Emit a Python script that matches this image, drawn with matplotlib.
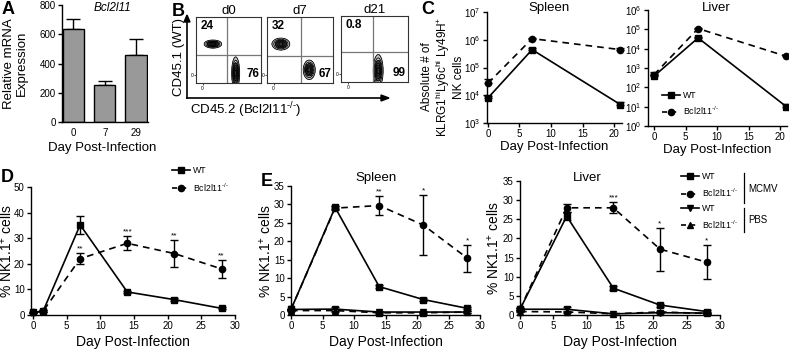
import numpy as np
import matplotlib
matplotlib.use("Agg")
import matplotlib.pyplot as plt
from matplotlib.lines import Line2D

plt.rcParams['font.family'] = ['Liberation Sans', 'DejaVu Sans']
plt.rcParams['mathtext.fontset'] = 'custom'
plt.rcParams['mathtext.rm'] = 'Liberation Sans'
plt.rcParams['mathtext.it'] = 'Liberation Sans:italic'
plt.rcParams['mathtext.bf'] = 'Liberation Sans:bold'

# ---------------- data ----------------
# Panel A
a_days = ['0', '7', '29']
a_expr = [635, 250, 455]
a_err = [70, 32, 110]

# Panel B (flow cytometry summary)
b_days = ['d0', 'd7', 'd21']
b_pct_wt = ['24', '32', '0.8']
b_pct_ko = ['76', '67', '99']
b_wt_center = [(0.26, 0.59), (0.21, 0.59), (0.25, 0.75)]
b_wt_spread = [(0.055, 0.025), (0.055, 0.037), (0.05, 0.03)]
b_ko_center = [(0.61, 0.15), (0.64, 0.20), (0.555, 0.17)]
b_ko_spread = [(0.025, 0.10), (0.037, 0.06), (0.03, 0.10)]
b_vgate = [0.47, 0.51, 0.48]
b_hgate = [0.43, 0.41, 0.45]

# Panel C
c_days = [0, 7, 21]
c_spleen_wt = [8.0e3, 4.4e5, 4.6e3]
c_spleen_wt_err = [1.5e3, 5e4, 1.0e3]
c_spleen_ko = [2.7e4, 1.1e6, 4.4e5]
c_spleen_ko_err = [1.3e4, 1e5, 5e4]
c_liver_wt = [380, 3.6e4, 10]
c_liver_wt_err = [120, 4e3, 4]
c_liver_ko = [450, 1.1e5, 4.0e3]
c_liver_ko_err = [150, 1e4, 500]
c_stars = ['', '', '**']

# Panel D
d_days = [0, 1.5, 7, 14, 21, 28]
d_wt = [1.0, 1.5, 35.2, 9.0, 6.0, 2.6]
d_wt_err = [0.2, 0.3, 3.4, 0.5, 0.6, 0.4]
d_ko = [1.0, 1.5, 22.0, 28.0, 24.0, 18.0]
d_ko_err = [0.2, 0.3, 2.2, 2.8, 5.3, 3.5]
d_stars = ['', '', '**', '***', '**', '**']

# Panel E
e_days = [0, 7, 14, 21, 28]
e_spl_wt = [1.5, 29.2, 7.7, 4.2, 1.8]
e_spl_wt_err = [0.2, 0.5, 0.5, 0.4, 0.3]
e_spl_ko = [1.5, 29.0, 29.7, 24.4, 15.4]
e_spl_ko_err = [0.2, 0.5, 2.5, 8.1, 3.7]
e_spl_pbs_wt = [1.5, 1.6, 0.8, 0.8, 0.8]
e_spl_pbs_wt_err = [0.2, 0.5, 0.2, 0.2, 0.2]
e_spl_pbs_ko = [1.2, 1.2, 0.6, 0.6, 0.8]
e_spl_pbs_ko_err = [0.2, 0.3, 0.2, 0.2, 0.2]
e_spl_stars = ['', '', '**', '*', '*']

e_liv_wt = [1.5, 25.8, 7.0, 2.6, 0.9]
e_liv_wt_err = [0.2, 1.0, 0.5, 0.4, 0.3]
e_liv_ko = [1.5, 28.0, 28.0, 17.2, 13.8]
e_liv_ko_err = [0.2, 1.0, 1.4, 5.6, 4.4]
e_liv_pbs_wt = [1.5, 1.5, 0.3, 0.6, 0.5]
e_liv_pbs_wt_err = [0.2, 0.6, 0.2, 0.2, 0.2]
e_liv_pbs_ko = [0.9, 0.8, 0.3, 0.8, 0.4]
e_liv_pbs_ko_err = [0.2, 0.3, 0.2, 0.2, 0.2]
e_liv_stars = ['', '', '***', '*', '*']

KO = r'Bcl2l11$^{\text{-/-}}$'

# ---------------- layout helpers ----------------
W, H = 789, 351
fig = plt.figure(figsize=(W / 100, H / 100), dpi=100)
TICK = 7
LAB = 9.5


def add_ax(l, t, r, b):
    return fig.add_axes([l / W, 1 - b / H, (r - l) / W, (b - t) / H])


def style(ax):
    for s in ['top', 'right']:
        ax.spines[s].set_visible(False)
    for s in ['left', 'bottom']:
        ax.spines[s].set_linewidth(1.0)
    ax.tick_params(direction='out', length=3, width=1.0, labelsize=TICK, pad=1.5)


def ftext(x, y, s, **kw):
    fig.text(x / W, 1 - y / H, s, **kw)


def ylab(ax, x_px, s, size=LAB, y_px=None):
    pos = ax.get_position()
    yc = (pos.y0 + pos.y1) / 2 if y_px is None else 1 - y_px / H
    fig.text(x_px / W, yc, s, rotation=90, ha='center', va='center', size=size,
             multialignment='center', linespacing=1.1)


def series(ax, x, y, err, marker, ls, stars=None, ms=4.5, log=False):
    ax.errorbar(x, y, yerr=err, color='black', marker=marker, ms=ms, ls=ls,
                lw=1.2, elinewidth=1.0, capsize=3, capthick=1.0, clip_on=False,
                dashes=(4, 3) if ls == '--' else (None, None), zorder=3)
    if stars:
        for xi, yi, ei, st in zip(x, y, err, stars):
            if st:
                top = yi + ei
                ax.annotate(st, (xi, top), xytext=(0, 1 if log else 0.5),
                            textcoords='offset points', ha='center', va='bottom', size=6)


def handle(marker, ls):
    return Line2D([], [], color='black', marker=marker, ms=4.5, lw=1.2, ls=ls,
                  dashes=(3, 2.5) if ls == '--' else (None, None))


LEG = dict(frameon=False, fontsize=6.3, handlelength=2.0, handletextpad=0.35,
           borderpad=0, borderaxespad=0, loc='upper left', bbox_transform=fig.transFigure)

# ---------------- Panel A ----------------
axA = add_ax(62, 5, 148, 122)
style(axA)
xa = np.arange(len(a_days))
axA.bar(xa, a_expr, width=0.68, color='#999999', edgecolor='black', lw=1.0, zorder=2)
axA.errorbar(xa, a_expr, yerr=[np.zeros(3), a_err], fmt='none', ecolor='black',
             elinewidth=1.0, capsize=5, capthick=1.0, zorder=1)
axA.set_xlim(-0.36, 2.38)
axA.set_ylim(0, 800)
axA.set_yticks([0, 200, 400, 600, 800])
axA.set_xticks(xa)
axA.set_xticklabels(a_days)
axA.tick_params(axis='x', length=0, pad=4)
ftext(112, 8, 'Bcl2l11', style='italic', size=8.5, ha='center', va='center')
ylab(axA, 15, 'Relative mRNA\nExpression')
ftext(102, 148, 'Day Post-Infection', size=LAB, ha='center', va='center')
ftext(2, 10, 'A', size=13, weight='bold', ha='left', va='center')

# ---------------- Panel B ----------------
gx, gy = np.meshgrid(np.linspace(0, 1, 260), np.linspace(0, 1, 260))
boxes = [(196, 17, 261, 83), (267, 17, 333, 83), (341, 16, 408, 82)]
levels = [0.05, 0.15, 0.3, 0.5, 0.7, 0.88]
for i, bx in enumerate(boxes):
    ax = add_ax(*bx)
    for pct, (cx, cy), (sx, sy) in [(b_pct_wt[i], b_wt_center[i], b_wt_spread[i]),
                                    (b_pct_ko[i], b_ko_center[i], b_ko_spread[i])]:
        if float(pct) < 5:
            continue
        dens = np.exp(-((gx - cx) ** 2 / (2 * sx ** 2) + (gy - cy) ** 2 / (2 * sy ** 2)))
        ax.contourf(gx, gy, dens, levels=[levels[0], levels[2], 1.01], colors=['#c8c8c8', '#4a4a4a'])
        ax.contour(gx, gy, dens, levels=levels, colors='black', linewidths=0.6)
    ax.axvline(b_vgate[i], color='#777777', lw=0.9)
    ax.axhline(b_hgate[i], color='#777777', lw=0.9)
    ax.set_xlim(0, 1)
    ax.set_ylim(0, 1)
    ax.set_xticks([0.1])
    ax.set_xticklabels(['0'])
    ax.set_yticks([0.12])
    ax.set_yticklabels(['0'])
    ax.tick_params(labelsize=3.5, length=1.5, width=0.5, pad=0.5)
    for s in ax.spines.values():
        s.set_linewidth(0.8)
        s.set_color('#333333')
    ax.text(0.07, 0.95, b_pct_wt[i], transform=ax.transAxes, size=8.5, weight='bold',
            ha='left', va='top')
    ax.text(0.97, 0.05, b_pct_ko[i], transform=ax.transAxes, size=8.5, weight='bold',
            ha='right', va='bottom')
    ax.set_title(b_days[i], size=LAB, pad=1.5)

fig.add_artist(Line2D([187 / W, 187 / W], [1 - 98 / H, 1 - 17 / H], color='black', lw=1.2))
fig.add_artist(Line2D([187 / W, 386 / W], [1 - 98 / H, 1 - 98 / H], color='black', lw=1.2))
fig.patches.append(plt.Polygon([[184 / W, 1 - 22 / H], [190 / W, 1 - 22 / H], [187 / W, 1 - 15 / H]],
                               closed=True, color='black', transform=fig.transFigure, figure=fig))
fig.patches.append(plt.Polygon([[381 / W, 1 - 95 / H], [381 / W, 1 - 101 / H], [389 / W, 1 - 98 / H]],
                               closed=True, color='black', transform=fig.transFigure, figure=fig))
fig.text(179 / W, 1 - 57 / H, 'CD45.1 (WT)', rotation=90, ha='center', va='center', size=LAB)
ftext(190, 110, 'CD45.2 (' + KO + ')', size=LAB, ha='left', va='center')
ftext(172, 11, 'B', size=13, weight='bold', ha='left', va='center')

# ---------------- Panel C ----------------
axCs = add_ax(487, 12, 622, 123)
axCl = add_ax(648, 10, 787, 126)
for ax, xl, yl, wt, wte, ko, koe, title, tx in [
        (axCs, (-0.15, 21.25), (1e3, 1e7), c_spleen_wt, c_spleen_wt_err, c_spleen_ko, c_spleen_ko_err, 'Spleen', 549),
        (axCl, (-0.95, 21.1), (1, 1e6), c_liver_wt, c_liver_wt_err, c_liver_ko, c_liver_ko_err, 'Liver', 716)]:
    style(ax)
    ax.set_yscale('log')
    ax.set_xlim(*xl)
    ax.set_ylim(*yl)
    ax.minorticks_off()
    ax.set_yticks([10 ** k for k in range(int(np.log10(yl[0])), int(np.log10(yl[1])) + 1)])
    ax.set_xticks([0, 5, 10, 15, 20])
    series(ax, c_days, wt, [np.zeros(3), wte], 's', '-')
    series(ax, c_days, ko, [np.zeros(3), koe], 'o', '--', stars=c_stars, log=True)
    ftext(tx, 8, title, size=LAB, ha='center', va='center')
    ax.set_xlabel('Day Post-Infection', size=LAB, labelpad=1)
ylab(axCs, 443, 'Absolute # of\n' + r'KLRG1$^{\mathrm{hi}}$Ly6c$^{\mathrm{hi}}$ Ly49H$^{+}$' + '\nNK cells',
     size=8.5, y_px=77)
ftext(421, 9, 'C', size=13, weight='bold', ha='left', va='center')
axCl.legend([handle('s', '-'), handle('o', '--')], ['WT', KO],
            bbox_to_anchor=(662 / W, 1 - 91 / H), labelspacing=0.55, **LEG)

# ---------------- Panel D ----------------
axD = add_ax(31, 187, 235, 315)
style(axD)
axD.set_xlim(-0.3, 30)
axD.set_ylim(0, 50)
axD.set_xticks([0, 5, 10, 15, 20, 25, 30])
axD.set_yticks([0, 10, 20, 30, 40, 50])
series(axD, d_days, d_wt, d_wt_err, 's', '-')
series(axD, d_days, d_ko, d_ko_err, 'o', '--', stars=d_stars)
axD.set_xlabel('Day Post-Infection', size=10, labelpad=3)
ylab(axD, 7, '% NK1.1$^{+}$ cells', size=10)
ftext(1, 177, 'D', size=13, weight='bold', ha='left', va='center')
axD.legend([handle('s', '-'), handle('o', '--')], ['WT', KO],
           bbox_to_anchor=(172 / W, 1 - 166 / H), labelspacing=0.7, **LEG)

# ---------------- Panel E ----------------
axEs = add_ax(291, 186, 480, 315)
axEl = add_ax(520, 181, 720, 315)
for ax, wt, wte, ko, koe, pw, pwe, pk, pke, st, title, tx, ylx in [
        (axEs, e_spl_wt, e_spl_wt_err, e_spl_ko, e_spl_ko_err, e_spl_pbs_wt, e_spl_pbs_wt_err,
         e_spl_pbs_ko, e_spl_pbs_ko_err, e_spl_stars, 'Spleen', 376, 266),
        (axEl, e_liv_wt, e_liv_wt_err, e_liv_ko, e_liv_ko_err, e_liv_pbs_wt, e_liv_pbs_wt_err,
         e_liv_pbs_ko, e_liv_pbs_ko_err, e_liv_stars, 'Liver', 587, 494)]:
    style(ax)
    ax.set_xlim(0, 30)
    ax.set_ylim(0, 35)
    ax.set_xticks([0, 5, 10, 15, 20, 25, 30])
    ax.set_yticks([0, 5, 10, 15, 20, 25, 30, 35])
    series(ax, e_days, pw, pwe, 'v', '-')
    series(ax, e_days, pk, pke, '^', '--')
    series(ax, e_days, wt, wte, 's', '-')
    series(ax, e_days, ko, koe, 'o', '--', stars=st)
    ax.set_xlabel('Day Post-Infection', size=10, labelpad=3)
    ftext(tx, 178, title, size=LAB, ha='center', va='center')
    ylab(ax, ylx, '% NK1.1$^{+}$ cells', size=10)
ftext(261, 181, 'E', size=13, weight='bold', ha='left', va='center')
axEl.legend([handle('s', '-'), handle('o', '--'), handle('v', '-'), handle('^', '--')],
            ['WT', KO, 'WT', KO],
            bbox_to_anchor=(681 / W, 1 - 172 / H), labelspacing=0.6, **LEG)
fig.add_artist(Line2D([744 / W, 744 / W], [1 - 173 / H, 1 - 203 / H], color='black', lw=0.9))
fig.add_artist(Line2D([744 / W, 744 / W], [1 - 208 / H, 1 - 232 / H], color='black', lw=0.9))
ftext(748, 189, 'MCMV', size=7, ha='left', va='center')
ftext(748, 220, 'PBS', size=7, ha='left', va='center')

fig.savefig('out.png', dpi=100)
